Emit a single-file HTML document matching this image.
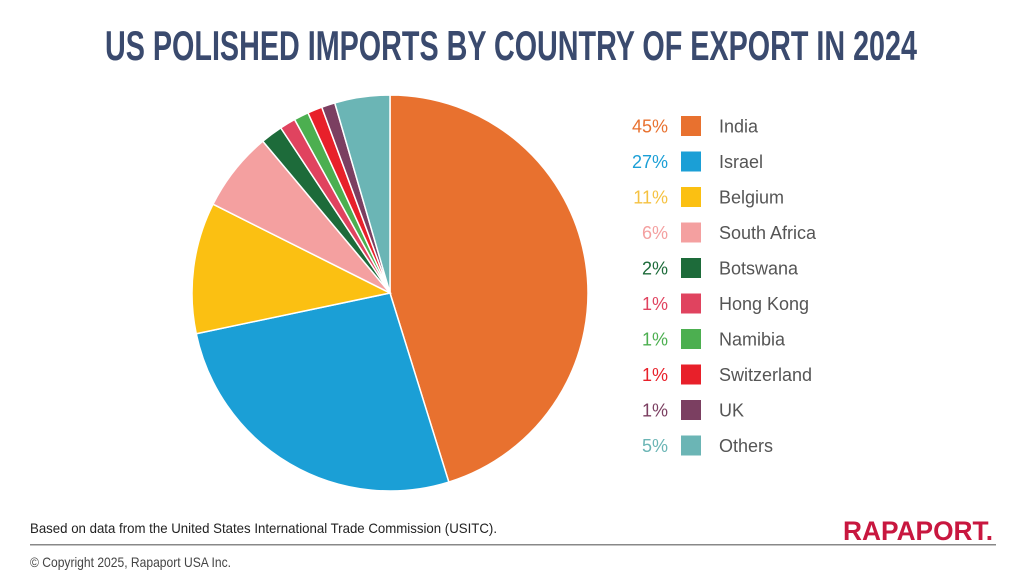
<!DOCTYPE html>
<html><head><meta charset="utf-8"><style>body{margin:0;background:#fff}svg{display:block}</style></head><body>
<svg id="s" width="1024" height="576" viewBox="0 0 1024 576" xmlns="http://www.w3.org/2000/svg" font-family="Liberation Sans, sans-serif">
<rect width="1024" height="576" fill="#fff"/>
<text x="511" y="60" text-anchor="middle" font-size="42" font-weight="bold" fill="#3A4A6E" textLength="812" lengthAdjust="spacingAndGlyphs">US POLISHED IMPORTS BY COUNTRY OF EXPORT IN 2024</text>
<g id="pie"></g>
<g id="leg" font-size="18"></g>
<text x="30" y="533" font-size="14" fill="#222" textLength="467" lengthAdjust="spacingAndGlyphs">Based on data from the United States International Trade Commission (USITC).</text>
<text x="843" y="540" font-size="27" font-weight="bold" fill="#C8173F" textLength="150" lengthAdjust="spacingAndGlyphs">RAPAPORT.</text>
<rect x="30" y="544" width="966" height="1.5" fill="#888"/>
<text x="30" y="567" font-size="14" fill="#444" textLength="201" lengthAdjust="spacingAndGlyphs">© Copyright 2025, Rapaport USA Inc.</text>
</svg>
<script>
var cx=390,cy=293,r=198;
var b=[0,45.2,71.7,82.4,88.9,90.7,92.0,93.2,94.4,95.5,100];
var c=["#E8712F","#1B9FD6","#FBC012","#F4A0A0","#1D6B3A","#E0435F","#4CAF50","#E8202A","#7B3F61","#6BB5B5"];
var n=["India","Israel","Belgium","South Africa","Botswana","Hong Kong","Namibia","Switzerland","UK","Others"];
var p=["45%","27%","11%","6%","2%","1%","1%","1%","1%","5%"];
var pc=["#E8712F","#1B9FD6","#F5C242","#F4A0A0","#1D6B3A","#E0435F","#4CAF50","#E8202A","#7B3F61","#6BB5B5"];
var ns="http://www.w3.org/2000/svg",g=document.getElementById("pie"),L=document.getElementById("leg");
function pt(f){var a=f/100*2*Math.PI;return [cx+r*Math.sin(a),cy-r*Math.cos(a)];}
for(var i=0;i<10;i++){var s=pt(b[i]),e=pt(b[i+1]),la=(b[i+1]-b[i])>50?1:0;
var el=document.createElementNS(ns,"path");
el.setAttribute("d","M"+cx+","+cy+"L"+s[0]+","+s[1]+"A"+r+","+r+" 0 "+la+" 1 "+e[0]+","+e[1]+"Z");
el.setAttribute("fill",c[i]);el.setAttribute("stroke","#fff");el.setAttribute("stroke-width","1.5");g.appendChild(el);
var y=126+i*35.5;
var t=document.createElementNS(ns,"text");t.setAttribute("x","668");t.setAttribute("y",y+6.5);t.setAttribute("text-anchor","end");t.setAttribute("fill",pc[i]);t.textContent=p[i];L.appendChild(t);
var q=document.createElementNS(ns,"rect");q.setAttribute("x","681");q.setAttribute("y",y-10);q.setAttribute("width","20");q.setAttribute("height","20");q.setAttribute("fill",c[i]);L.appendChild(q);
var t2=document.createElementNS(ns,"text");t2.setAttribute("x","719");t2.setAttribute("y",y+6.5);t2.setAttribute("fill","#555");t2.textContent=n[i];L.appendChild(t2);}
</script>
</body></html>
